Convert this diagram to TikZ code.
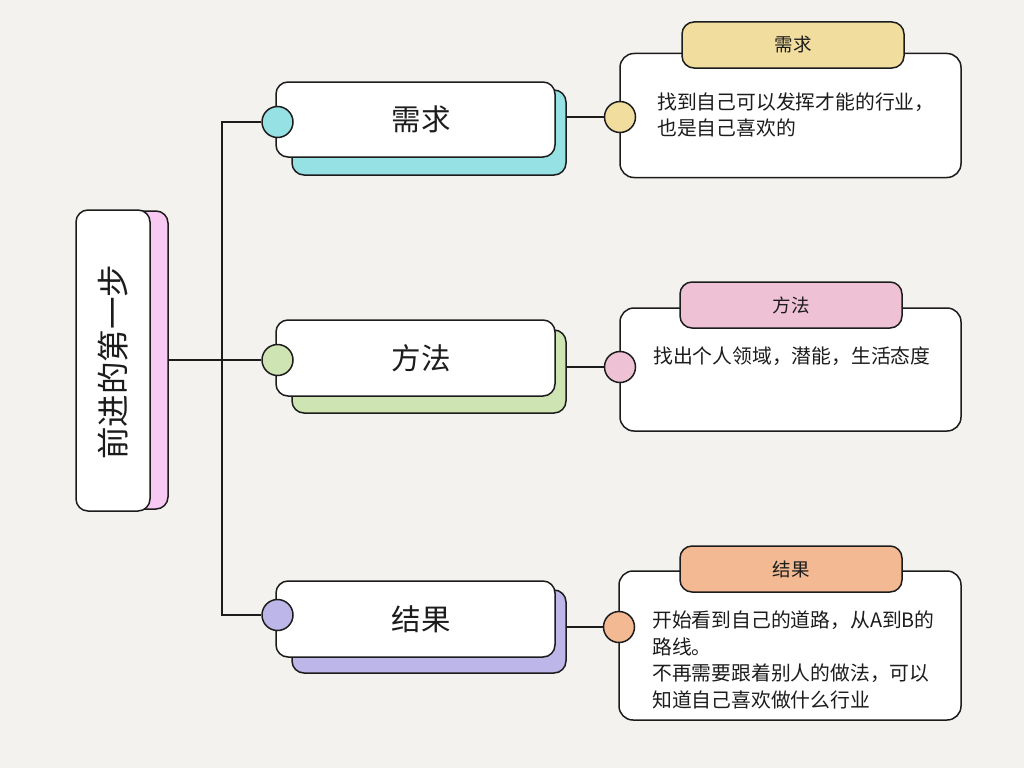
\documentclass[tikz,border=0pt]{standalone}
\usepackage{fontspec}
\newfontfamily\cjk{Noto Sans CJK SC}
\pgfdeclarelayer{paperlayer}
\pgfdeclarelayer{linklayer}
\pgfsetlayers{paperlayer,linklayer,main}
\begin{document}
\definecolor{paper}{HTML}{F3F2EE}
\definecolor{ink}{HTML}{1C1C1C}
\definecolor{rootpink}{HTML}{F8C9F3}
\definecolor{cyanfill}{HTML}{96E1E3}
\definecolor{greenfill}{HTML}{CEE4B3}
\definecolor{purplefill}{HTML}{BDB6E8}
\definecolor{yellowfill}{HTML}{F1DD9E}
\definecolor{pinkfill}{HTML}{EEC2D4}
\definecolor{orangefill}{HTML}{F2B992}
\begin{tikzpicture}[x=1pt,y=-1pt,
  box/.style={draw=ink,line width=1.5pt,rounded corners=12pt,inner sep=0pt,font=\cjk,text=ink},
  shadowbox/.style={box},
  dot/.style={draw=ink,line width=1.5pt,circle,minimum size=31pt,inner sep=0pt},
  card/.style={draw=ink,line width=1.5pt,fill=white,rounded corners=14pt,inner sep=0pt},
  tab/.style={box,minimum width=222pt,minimum height=46pt,font=\cjk\fontsize{18.5}{18.5}\selectfont},
  cardtext/.style={anchor=west,align=left,inner sep=0pt,text=ink,font=\cjk\fontsize{19.8}{26.8}\selectfont},
  branchtext/.style={font=\cjk\fontsize{29.5}{29.5}\selectfont},
  link/.style={draw=ink,line width=1.5pt}]
\begin{pgfonlayer}{paperlayer}
\fill[paper] (0,0) rectangle (1024,768);
\end{pgfonlayer}
\useasboundingbox (0,0) rectangle (1024,768);

% root topic
\node[shadowbox,fill=rootpink,minimum width=76pt,minimum height=298pt] (rootsh) at (130,360) {};
\node[box,fill=white,minimum width=74pt,minimum height=301pt] (root) at (113,360.5) {};
\node[rotate=90,font=\cjk\fontsize{32.5}{32.5}\selectfont,text=ink] (roottext) at (113,362) {前进的第一步};

% branch 1
\node[shadowbox,fill=cyanfill,minimum width=274pt,minimum height=85pt] (s1) at (429,132.5) {};
\node[box,fill=white,minimum width=279pt,minimum height=75pt,branchtext] (b1) at (415.5,119.5) {\hspace*{11pt}需求};
\node[dot,fill=cyanfill] (c1) at (277.5,122) {};
% branch 2
\node[shadowbox,fill=greenfill,minimum width=274pt,minimum height=83pt] (s2) at (429,371.5) {};
\node[box,fill=white,minimum width=279pt,minimum height=76pt,branchtext] (b2) at (415.5,358) {\hspace*{11pt}方法};
\node[dot,fill=greenfill] (c2) at (277.5,360) {};
% branch 3
\node[shadowbox,fill=purplefill,minimum width=274pt,minimum height=83pt] (s3) at (429,631.5) {};
\node[box,fill=white,minimum width=279pt,minimum height=76pt,branchtext] (b3) at (415.5,619) {\hspace*{11pt}结果};
\node[dot,fill=purplefill] (c3) at (277.5,615) {};

% note cards
\node[card,minimum width=341pt,minimum height=124pt] (n1) at (790.5,115.5) {};
\node[tab,fill=yellowfill] (t1) at (793,45) {需求};
\node[dot,fill=yellowfill] (k1) at (620,117) {};
\node[cardtext] (x1) at (657,115) {找到自己可以发挥才能的行业，\\也是自己喜欢的};

\node[card,minimum width=341pt,minimum height=123pt] (n2) at (790.5,369.5) {};
\node[tab,fill=pinkfill] (t2) at (791,305) {方法};
\node[dot,fill=pinkfill] (k2) at (620,367) {};
\node[cardtext] (x2) at (653,356) {找出个人领域，潜能，生活态度};

\node[card,minimum width=342pt,minimum height=149pt] (n3) at (790,645.5) {};
\node[tab,fill=orangefill] (t3) at (791,569) {结果};
\node[dot,fill=orangefill] (k3) at (619,627) {};
\node[cardtext] (x3) at (652,660) {开始看到自己的道路，从A到B的\\路线。\\不再需要跟着别人的做法，可以\\知道自己喜欢做什么行业};

% connectors, kept beneath the boxes
\begin{pgfonlayer}{linklayer}
\coordinate (j) at (222,360);
\draw[link] (rootsh.east) -- (c2.west);
\draw[link] (c1.west) -| (j) |- (c3.west);
\draw[link] (s1.east |- k1) -- (k1.west);
\draw[link] (s2.east |- k2) -- (k2.west);
\draw[link] (s3.east |- k3) -- (k3.west);
\end{pgfonlayer}
\end{tikzpicture}
\end{document}
